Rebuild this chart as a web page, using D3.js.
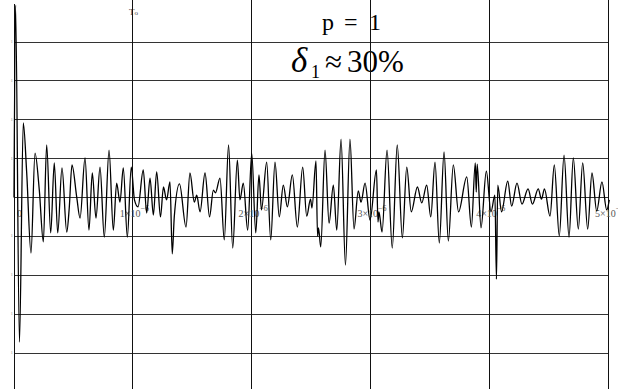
<!DOCTYPE html>
<html><head><meta charset="utf-8">
<script src="https://cdn.jsdelivr.net/npm/d3@7"></script>
<style>html,body{margin:0;padding:0;background:#fff;}svg{display:block;}</style>
</head><body>
<script>
// time in units of 1e-6 s
const times = [0,0.013,0.046,0.078,0.107,0.143,0.177,0.213,0.247,0.275,0.309,0.339,0.368,0.404,0.444,0.465,0.488,0.528,0.556,0.598,0.631,0.659,0.690,0.724,0.760,0.800,0.836,0.864,0.892,0.920,0.954,0.987,1.014,1.044,1.088,1.117,1.145,1.173,1.201,1.233,1.258,1.284,1.313,1.332,1.349,1.393,1.448,1.481,1.518,1.538,1.566,1.608,1.646,1.678,1.696,1.734,1.770,1.806,1.841,1.880,1.902,1.930,1.967,2.001,2.035,2.062,2.083,2.127,2.161,2.197,2.233,2.267,2.301,2.343,2.385,2.430,2.464,2.496,2.508,2.542,2.555,2.563,2.582,2.618,2.652,2.688,2.717,2.753,2.790,2.828,2.862,2.898,2.921,2.955,2.997,3.051,3.064,3.072,3.098,3.140,3.184,3.226,3.269,3.306,3.344,3.396,3.432,3.474,3.508,3.544,3.580,3.620,3.656,3.698,3.742,3.811,3.850,3.883,3.891,3.899,3.931,3.976,4.015,4.048,4.061,4.072,4.104,4.156,4.189,4.234,4.276,4.327,4.364,4.413,4.440,4.465,4.512,4.548,4.590,4.630,4.672,4.708,4.750,4.787,4.829,4.865,4.905,4.949,4.989,5.011];
const values = [0,4.95,-3.72,1.92,0.63,-1.43,1.14,0.19,-1.14,1.35,-0.91,0.89,-0.91,0.76,-0.89,-0.27,0.84,0.01,-0.53,1.02,-0.84,0.63,-0.53,0.78,-1.02,1.22,-0.84,0.37,-0.12,0.76,-1.02,0.78,-0.06,-0.24,0.71,-0.40,0.50,-0.45,0.66,-0.50,0.27,-0.06,0.40,-1.45,-0.50,0.35,-0.76,0.63,-0.12,0.06,-0.37,0.63,-0.50,0.19,0.12,0.50,-1.09,1.35,-1.30,0.96,-0.06,0.37,-0.84,1.14,-0.91,0.58,-0.32,0.91,-1.09,0.91,-0.50,0.32,-0.24,0.58,-0.76,0.78,-0.48,-0.04,-0.27,0.94,-0.99,-0.78,-1.27,1.22,-0.66,0.32,-0.84,1.50,-1.74,1.50,-0.81,0.17,-0.12,0.37,-0.58,0.71,-0.63,-0.37,-0.89,1.22,-1.30,1.35,-1.04,0.78,-0.37,0.27,-0.14,0.32,-0.50,0.91,-1.17,1.17,-1.12,0.84,-0.37,0.53,-0.76,0.89,0.14,0.86,-0.78,0.68,-0.37,0.06,-2.10,0.32,-0.37,0.42,-0.22,0.37,-0.17,0.22,-0.17,0.22,-0.04,0.22,-0.48,0.84,-0.99,1.09,-1.02,1.02,-0.81,0.89,-0.81,0.63,-0.35,0.40,-0.32,-0.06];
const xTicks = [0,1,2,3,4,5];
const xTickLabels = ["0","1×10","2×10","3×10","4×10","5×10"];
const xTickExp = ["","−6","−6","−6","−6","−6"];
const yGrid = [4,3,2,1,0,-1,-2,-3,-4];
const yTickLabels = ["1","1","1","1","","1","1","1","1"];

const W = 623, H = 389;
const FONT = '"Liberation Serif"';
const svg = d3.select("body").append("svg").attr("width", W).attr("height", H);
const clip = svg.append("defs").append("clipPath").attr("id","c");
clip.append("rect").attr("x",0).attr("y",0).attr("width",618).attr("height",H);
const g = svg.append("g").attr("clip-path","url(#c)");

const x = d3.scaleLinear().domain([0,5]).range([14,608]);
const y = d3.scaleLinear().domain([-4,4]).range([353,42]);

// text annotations (drawn first, lines over them)
const t1 = g.append("text").attr("y",29.5).style("font-family",FONT).style("font-size","24px").attr("fill","#000");
t1.append("tspan").attr("x",322).text("p");
t1.append("tspan").attr("x",344).text("=");
t1.append("tspan").attr("x",369).text("1");
const t2 = g.append("text").attr("y",72).style("font-family",FONT).style("font-size","31px").attr("fill","#000");
t2.append("tspan").attr("x",291).style("font-style","italic").style("font-size","35px").text("δ");
t2.append("tspan").attr("x",311).style("font-size","18px").attr("dy",6).text("1");
t2.append("tspan").attr("x",325).attr("dy",-6).text("≈");
t2.append("tspan").attr("x",347).text("30%");

// T0 label
const t0 = g.append("text").attr("x",129).attr("y",15).style("font-family",FONT).style("font-size","9px").attr("fill","#444");
t0.append("tspan").text("T");
t0.append("tspan").style("font-size","7px").text("o");

// horizontal grid lines
g.selectAll("line.h").data(yGrid).join("line").attr("class","h")
  .attr("x1",x(0)).attr("x2",x(5)).attr("y1",d=>y(d)).attr("y2",d=>y(d))
  .attr("stroke","#333").attr("stroke-width",1).attr("shape-rendering","crispEdges");
// vertical grid lines
g.selectAll("line.v").data(xTicks.slice(1)).join("line").attr("class","v")
  .attr("x1",d=>x(d)).attr("x2",d=>x(d)).attr("y1",0).attr("y2",H)
  .attr("stroke","#111").attr("stroke-width",1).attr("shape-rendering","crispEdges");
// left axis
g.append("line").attr("x1",x(0)).attr("x2",x(0)).attr("y1",4).attr("y2",H)
  .attr("stroke","#111").attr("stroke-width",1).attr("shape-rendering","crispEdges");

// y tick labels (tiny, gray)
g.selectAll("text.yl").data(yGrid).join("text").attr("class","yl")
  .attr("x",13).attr("y",(d)=>y(d)+1).attr("text-anchor","end")
  .style("font-family",FONT).style("font-size","5px").attr("fill","#999")
  .text((d,i)=>yTickLabels[i]);

// x tick labels
xTicks.forEach((d,i)=>{
  const tx = g.append("text").style("font-family",FONT).style("font-size","10px").attr("fill","#555").attr("y",217);
  if(i===0){ tx.attr("x",x(d)+3).text(xTickLabels[i]); return; }
  tx.attr("x",x(d)-13).text(xTickLabels[i]);
  tx.append("tspan").style("font-size","8px").attr("dy",-6).text(xTickExp[i]);
});

// signal
const pts = times.map((t,i)=>[t,values[i]]);
g.append("path").datum(pts)
  .attr("d", d3.line().x(d=>x(d[0])).y(d=>y(d[1])).curve(d3.curveMonotoneX))
  .attr("fill","none").attr("stroke","#000").attr("stroke-width",1.3);
</script>
</body></html>
